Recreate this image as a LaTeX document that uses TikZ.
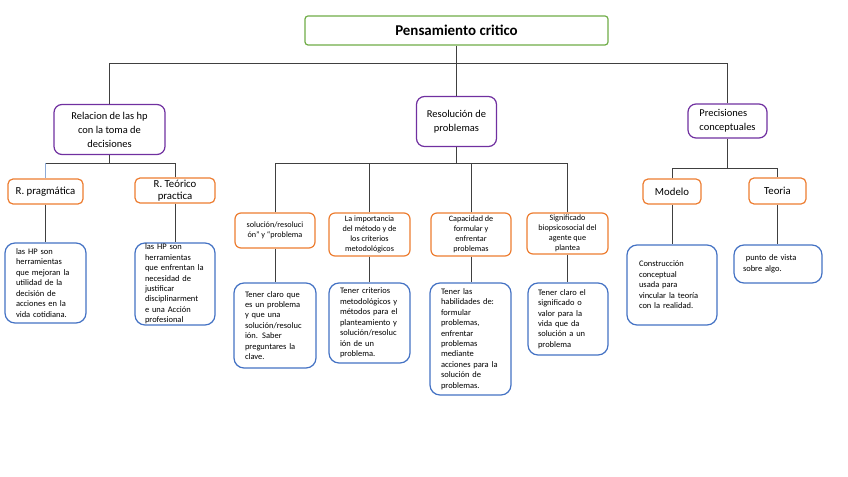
\documentclass[tikz,border=0pt]{standalone}
\usepackage{fontspec}
\setmainfont{Carlito}
\definecolor{cgreen}{RGB}{112,173,71}
\definecolor{cpurple}{RGB}{112,48,160}
\definecolor{corange}{RGB}{237,125,49}
\definecolor{cblue}{RGB}{68,114,196}
\definecolor{cline}{RGB}{64,64,64}
\definecolor{clblue}{RGB}{140,170,215}
\begin{document}
\begin{tikzpicture}[x=1bp,y=-1bp,
  base/.style={draw, line width=1.2bp, fill=white, inner sep=0pt, align=center},
  topbox/.style={base, draw=cgreen, rounded corners=3bp, font=\bfseries\fontsize{15}{18}\selectfont},
  mid/.style={base, draw=cpurple, rounded corners=8bp, font=\fontsize{10.5}{14}\selectfont},
  cat/.style={base, draw=corange, rounded corners=5bp, font=\fontsize{10.8}{12.5}\selectfont},
  catsm/.style={base, draw=corange, rounded corners=6bp, font=\fontsize{8.2}{10}\selectfont},
  leaf/.style={base, draw=cblue, rounded corners=10bp, align=left, font=\fontsize{8.5}{10.5}\selectfont},
  conn/.style={draw=cline, line width=0.8bp},
  bconn/.style={draw=clblue, line width=0.9bp}]
\useasboundingbox[fill=white] (0,0) rectangle (848,477);

% top
\node[topbox, minimum width=303bp, minimum height=29bp] (top) at (456.5,30.5) {Pensamiento critico};

% level 1
\node[mid, minimum width=111bp, minimum height=50bp] (rel) at (109.5,129.5) {Relacion de las hp\\con la toma de\\decisiones};
\node[mid, minimum width=80bp, minimum height=50bp] (res) at (456.5,121.5) {Resolución de\\problemas};
\node[mid, minimum width=79bp, minimum height=34bp, align=left] (pre) at (727.5,121) {Precisiones\\conceptuales};

\coordinate (j1) at (top.south |- 0,63);
\draw[conn] (top.south) -- (j1);
\draw[conn] (rel.north) |- (j1);
\draw[conn] (res.north) |- (j1);
\draw[conn] (pre.north) |- (j1);

% level 2 left
\node[cat, minimum width=75bp, minimum height=25bp] (prag) at (45.5,191.5) {R. pragmática};
\node[cat, minimum width=80bp, minimum height=25bp] (teo) at (175,190.5) {R. Teórico\\practica};
\coordinate (j2) at (rel.south |- 0,163);
\draw[conn] (rel.south) -- (j2);
\draw[conn] (j2) -- (j2 -| prag.north);
\draw[bconn] (j2 -| prag.north) -- (prag.north);
\draw[conn] (teo.north) |- (j2);

% level 2 middle
\node[catsm, minimum width=80bp, minimum height=35bp] (sol) at (275,230.5) {solución/resoluci\\ón” y “problema};
\node[catsm, minimum width=81bp, minimum height=43bp] (imp) at (369.5,234.5) {La importancia\\del método y de\\los criterios\\metodológicos};
\node[catsm, minimum width=80bp, minimum height=43bp] (cap) at (471,234.5) {Capacidad de\\formular y\\enfrentar\\problemas};
\node[catsm, minimum width=81bp, minimum height=41bp] (sig) at (567.5,233.5) {Significado\\biopsicosocial del\\agente que\\plantea};
\coordinate (j3) at (res.south |- 0,163);
\draw[conn] (res.south) -- (j3);
\draw[conn] (sol.north) |- (j3);
\draw[conn] (imp.north) |- (j3);
\draw[conn] (cap.north) |- (j3);
\draw[conn] (sig.north) |- (j3);

% level 2 right
\node[cat, minimum width=58bp, minimum height=25bp] (mod) at (672,191.5) {Modelo};
\node[cat, minimum width=57bp, minimum height=26bp] (teoria) at (777.5,191) {Teoria};
\coordinate (j4) at (pre.south |- 0,168);
\draw[conn] (pre.south) -- (j4);
\draw[conn] (mod.north) |- (j4);
\draw[conn] (teoria.north) |- (j4);

% leaves
\node[leaf, minimum width=81bp, minimum height=80bp, text width=59bp] (pragd) at (45.5,283) {las HP son\\herramientas\\que mejoran la\\utilidad de la\\decisión de\\acciones en la\\vida cotidiana.};
\node[leaf, minimum width=80bp, minimum height=82bp, text width=60bp] (teod) at (175,284) {las HP son\\herramientas\\que enfrentan la\\necesidad de\\justificar\\disciplinarment\\e una Acción\\profesional};
\node[leaf, minimum width=82bp, minimum height=85bp, text width=60bp] (sold) at (275,325.5) {Tener claro que\\es un problema\\y que una\\solución/resoluc\\ión. Saber\\preguntares la\\clave.};
\node[leaf, minimum width=81bp, minimum height=80bp, text width=59bp] (impd) at (369.5,323) {Tener criterios\\metodológicos y\\métodos para el\\planteamiento y\\solución/resoluc\\ión de un\\problema.};
\node[leaf, minimum width=81bp, minimum height=112bp, text width=59bp] (capd) at (470.5,339) {Tener las\\habilidades de:\\formular\\problemas,\\enfrentar\\problemas\\mediante\\acciones para la\\solución de\\problemas.};
\node[leaf, minimum width=80bp, minimum height=72bp, text width=60bp] (sigd) at (568,319) {Tener claro el\\significado o\\valor para la\\vida que da\\solución a un\\problema};
\node[leaf, minimum width=90bp, minimum height=80bp, text width=66bp] (modd) at (672,285) {Construcción\\conceptual\\usada para\\vincular la teoría\\con la realidad.};
\node[leaf, minimum width=88bp, minimum height=38bp, text width=70bp] (teoriad) at (778,264) {\ punto de vista\\sobre algo.};

\draw[conn] (prag.south) -- (prag.south |- pragd.north);
\draw[conn] (teo.south) -- (teo.south |- teod.north);
\draw[conn] (sol.south) -- (sol.south |- sold.north);
\draw[conn] (imp.south) -- (imp.south |- impd.north);
\draw[conn] (cap.south) -- (cap.south |- capd.north);
\draw[conn] (sig.south) -- (sig.south |- sigd.north);
\draw[conn] (mod.south) -- (mod.south |- modd.north);
\draw[conn] (teoria.south) -- (teoria.south |- teoriad.north);
\end{tikzpicture}
\end{document}
